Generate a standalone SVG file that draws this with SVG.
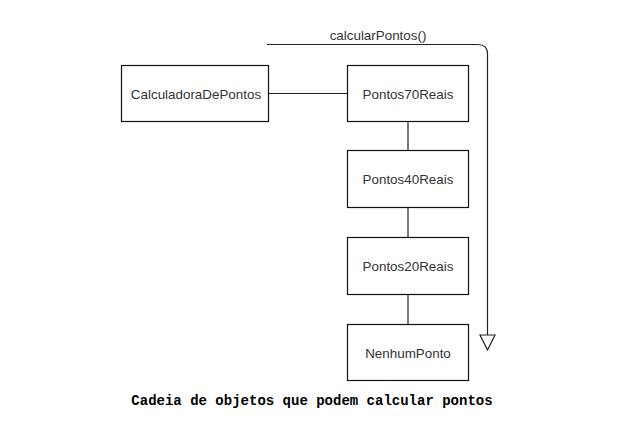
<svg xmlns="http://www.w3.org/2000/svg" width="617" height="424" viewBox="0 0 617 424">
<style>
.box{fill:#fff;stroke:#111;stroke-width:1.2}
.t{font-family:"Liberation Sans",Arial,sans-serif;font-size:13.4px;fill:#333;text-anchor:middle;dominant-baseline:central}
.c{stroke:#222;stroke-width:1.2;fill:none}
.cap{font-family:"Liberation Mono","Courier New",monospace;font-size:14px;font-weight:bold;fill:#000;text-anchor:middle}
</style>
<rect width="617" height="424" fill="#fff"/>
<g id="connectors">
<line class="c" x1="268" y1="93.5" x2="347" y2="93.5"/>
<line class="c" x1="408" y1="121" x2="408" y2="150"/>
<line class="c" x1="408" y1="207" x2="408" y2="237"/>
<line class="c" x1="408" y1="294" x2="408" y2="324"/>
<path class="c" d="M267 44.5 H478 Q487.5 44.5 487.5 54 V335"/>
<polygon points="480,335 495,335 487.5,350" fill="#fff" stroke="#222" stroke-width="1.2"/>
<text class="t" x="378" y="35">calcularPontos()</text>
</g>
<g id="CalculadoraDePontos">
<rect class="box" x="121.5" y="65.5" width="147" height="56"/>
<text class="t" x="196" y="94">CalculadoraDePontos</text>
</g>
<g id="Pontos70Reais">
<rect class="box" x="347.5" y="65.5" width="121" height="56"/>
<text class="t" x="408" y="94">Pontos70Reais</text>
</g>
<g id="Pontos40Reais">
<rect class="box" x="347.5" y="150.5" width="121" height="57"/>
<text class="t" x="408" y="179">Pontos40Reais</text>
</g>
<g id="Pontos20Reais">
<rect class="box" x="347.5" y="237.5" width="121" height="57"/>
<text class="t" x="408" y="266">Pontos20Reais</text>
</g>
<g id="NenhumPonto">
<rect class="box" x="347.5" y="324.5" width="121" height="56"/>
<text class="t" x="408" y="353">NenhumPonto</text>
</g>
<text class="cap" x="312" y="405">Cadeia de objetos que podem calcular pontos</text>
</svg>
